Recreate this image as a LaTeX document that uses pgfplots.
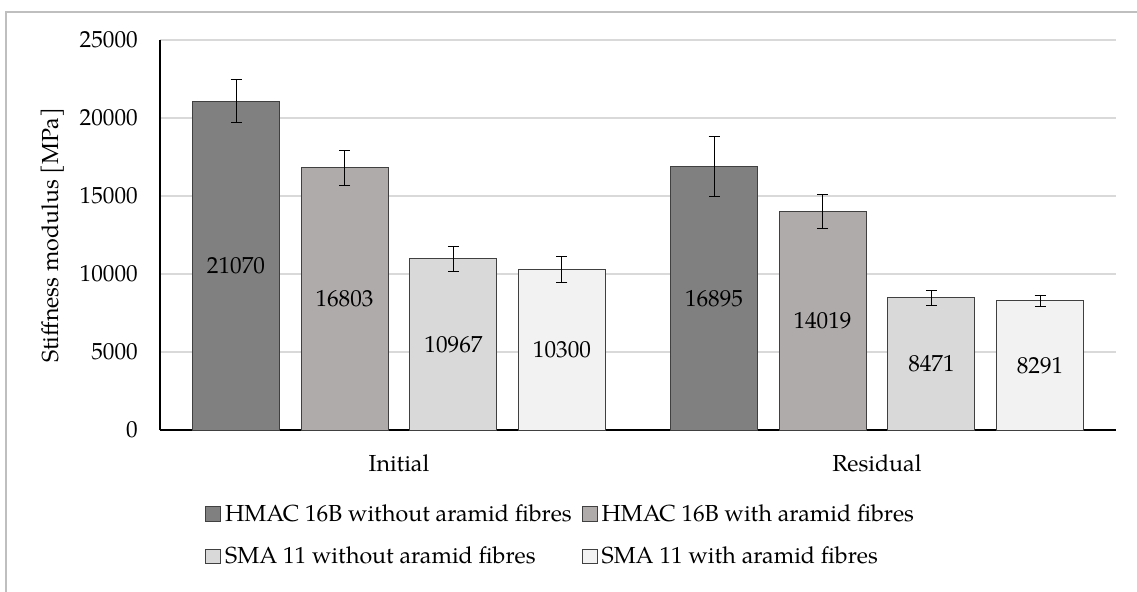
\documentclass[border=0pt]{standalone}
\usepackage{fontspec}
\setmainfont{TeX Gyre Pagella}
\usepackage{pgfplots}
\pgfplotsset{compat=1.18}
\usepackage{pgfplotstable}
\definecolor{c1}{HTML}{808080}
\definecolor{c2}{HTML}{AFABAB}
\definecolor{c3}{HTML}{D9D9D9}
\definecolor{c4}{HTML}{F2F2F2}
\definecolor{gridc}{HTML}{D9D9D9}
\definecolor{edge}{HTML}{404040}
\definecolor{framec}{HTML}{BFBFBF}

% HMAC 16B without aramid fibres
\pgfplotstableread{
x y err
0 21070 1370
1 16895 1930
}\tA
% HMAC 16B with aramid fibres
\pgfplotstableread{
x y err
0 16803 1120
1 14019 1080
}\tB
% SMA 11 without aramid fibres
\pgfplotstableread{
x y err
0 10967 780
1 8471 470
}\tC
% SMA 11 with aramid fibres
\pgfplotstableread{
x y err
0 10300 840
1 8291 350
}\tD

\newcommand{\fs}{\fontsize{11.6}{13.9}\selectfont}

\begin{document}
\begin{tikzpicture}
\useasboundingbox (-80pt,-80.5pt) rectangle (488.5pt,215pt);
\draw[framec, line width=0.6pt] (-77pt,-90pt) -- (-77pt,209pt) -- (500pt,209pt);
\begin{axis}[
  at={(0,0)}, anchor=south west,
  scale only axis, width=478pt, height=195pt,
  xmin=-0.5, xmax=1.5, ymin=0, ymax=25000,
  ytick={0,5000,10000,15000,20000,25000},
  scaled y ticks=false,
  xtick={0,1}, xticklabels={Initial,Residual},
  major tick length=0pt,
  axis x line*=bottom, axis y line*=left,
  axis line style={-, line width=1pt, black},
  ymajorgrids, grid style={gridc, line width=0.75pt},
  font=\fs,
  /pgf/number format/assume math mode=true,
  /pgf/number format/set thousands separator={},
  yticklabel style={xshift=-7.6pt, text=black},
  xticklabel style={yshift=-8.8pt, text=black},
  ylabel={Stiffness modulus [MPa]},
  ylabel style={at={(axis description cs:-0.112,0.5)}, anchor=center},
  legend columns=2,
  legend cell align=left,
  legend style={at={(axis description cs:0.047,-0.18)}, anchor=north west,
    draw=none, fill=none, inner sep=0pt, row sep=7.3pt,
    font=\fs,
    /tikz/every even column/.append style={column sep=3pt}},
  legend image code/.code={\draw[#1, line width=0.5pt] (0pt,-3.4pt) rectangle (7.4pt,4pt);},
  error bars/y dir=both, error bars/y explicit,
  error bars/error bar style={black, line width=0.5pt},
  error bars/error mark options={rotate=90, mark size=2.75pt, black, line width=0.5pt},
]
\addplot[ybar, bar width=0.182, bar shift=0pt, fill=c1, draw=edge, line width=0.5pt]
  table[x expr=\thisrow{x}-0.341, y=y, y error=err]{\tA};
\addlegendentry{HMAC 16B without aramid fibres}
\addplot[ybar, bar width=0.182, bar shift=0pt, fill=c2, draw=edge, line width=0.5pt]
  table[x expr=\thisrow{x}-0.114, y=y, y error=err]{\tB};
\addlegendentry{HMAC 16B with aramid fibres}
\addplot[ybar, bar width=0.182, bar shift=0pt, fill=c3, draw=edge, line width=0.5pt]
  table[x expr=\thisrow{x}+0.114, y=y, y error=err]{\tC};
\addlegendentry{SMA 11 without aramid fibres}
\addplot[ybar, bar width=0.182, bar shift=0pt, fill=c4, draw=edge, line width=0.5pt]
  table[x expr=\thisrow{x}+0.341, y=y, y error=err]{\tD};
\addlegendentry{SMA 11 with aramid fibres}

\pgfplotsset{lbl/.style={only marks, mark=none, forget plot, error bars/y explicit=false, error bars/y dir=none,
  nodes near coords, point meta=explicit symbolic,
  nodes near coords style={anchor=center, text=black, font=\fs}}}
\addplot[lbl] table[x expr=\thisrow{x}-0.341, y expr=\thisrow{y}/2, meta=y]{\tA};
\addplot[lbl] table[x expr=\thisrow{x}-0.114, y expr=\thisrow{y}/2, meta=y]{\tB};
\addplot[lbl] table[x expr=\thisrow{x}+0.114, y expr=\thisrow{y}/2, meta=y]{\tC};
\addplot[lbl] table[x expr=\thisrow{x}+0.341, y expr=\thisrow{y}/2, meta=y]{\tD};
\end{axis}
\end{tikzpicture}
\end{document}
